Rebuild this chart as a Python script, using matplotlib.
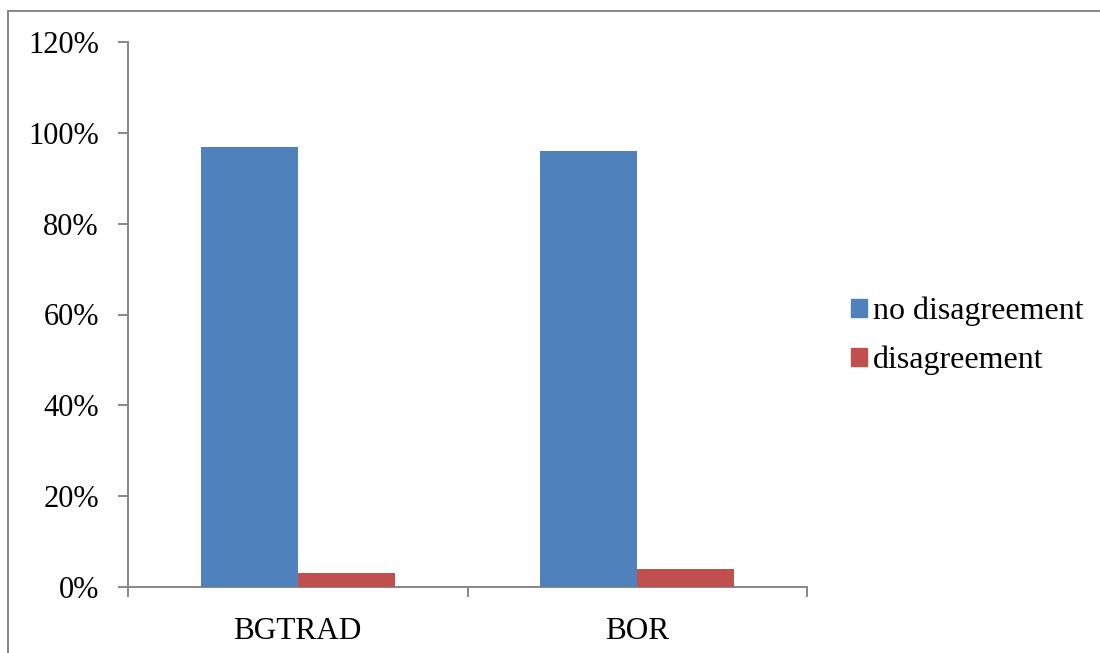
import matplotlib.pyplot as plt
import numpy as np
from matplotlib.lines import Line2D
from matplotlib.patches import Patch
from matplotlib.ticker import FuncFormatter

categories = ["BGTRAD", "BOR"]
series_names = ["no disagreement", "disagreement"]
no_disagreement = [0.97, 0.96]
disagreement = [0.03, 0.04]
yticks = [0, 0.2, 0.4, 0.6, 0.8, 1.0, 1.2]

blue = "#4F81BD"
red = "#C0504D"
axis_gray = "#868686"

plt.rcParams["font.family"] = ["Liberation Serif", "DejaVu Serif"]

fig = plt.figure(figsize=(11, 6.53), dpi=100)
ax = fig.add_axes([128 / 1100, 1 - 586.7 / 653, (807 - 128) / 1100, (586.7 - 42.3) / 653])

x = np.arange(len(categories))
w = 97 / 340
ax.bar(x - w / 2, no_disagreement, width=w, color=blue, label=series_names[0], zorder=3)
ax.bar(x + w / 2, disagreement, width=w, color=red, label=series_names[1], zorder=3)

ax.set_xlim(-0.5, len(categories) - 0.5)
ax.set_ylim(0, 1.2)
ax.set_yticks(yticks)
ax.yaxis.set_major_formatter(FuncFormatter(lambda v, p: f"{v * 100:.0f}%"))

# category labels on major ticks, boundary ticks as minor
ax.set_xticks(x)
ax.set_xticklabels(categories)
ax.set_xticks(np.arange(len(categories) + 1) - 0.5, minor=True)
ax.tick_params(axis="x", which="major", length=0, pad=22, labelsize=22.5)
ax.tick_params(axis="x", which="minor", length=7, width=1.4, color=axis_gray, direction="out")
ax.tick_params(axis="y", length=7, width=1.4, color=axis_gray, pad=14, labelsize=22)

for side in ["top", "right"]:
    ax.spines[side].set_visible(False)
for side in ["left", "bottom"]:
    ax.spines[side].set_color(axis_gray)
    ax.spines[side].set_linewidth(1.4)

handles = [Patch(color=blue), Patch(color=red)]
fig.legend(handles, series_names, loc="center left",
           bbox_to_anchor=(851 / 1100, 1 - 336 / 653), frameon=False,
           fontsize=23, handlelength=0.5, handleheight=0.5,
           handletextpad=0.2, labelspacing=0.62, borderpad=0, borderaxespad=0)

# outer chart border
fig.add_artist(Line2D([8 / 1100, 8 / 1100], [0, 1 - 11 / 653], transform=fig.transFigure,
                      color=axis_gray, linewidth=1.4))
fig.add_artist(Line2D([8 / 1100, 1], [1 - 11 / 653, 1 - 11 / 653], transform=fig.transFigure,
                      color=axis_gray, linewidth=1.4))

fig.savefig("out.png", dpi=100)
